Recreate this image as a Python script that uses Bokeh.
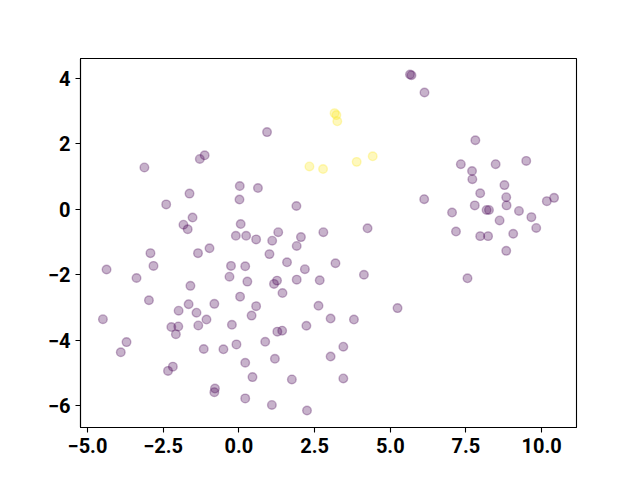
from bokeh.plotting import figure
from bokeh.models import Range1d, FixedTicker
from bokeh.embed import file_html
from bokeh.resources import INLINE

# Cluster 0 (purple)
purple_x = [-3.12, -1.29, -1.13, 0.03, 0.02, -1.63, -2.40, -1.53, -1.83, -1.69,
            0.06, -0.10, 0.24, 5.65, 5.70, 0.93, 0.63, 1.90, 0.57, 1.30,
            1.10, 2.05, 2.79, 4.25, 6.13, 7.81, 7.33, 7.70, 7.71, 8.48,
            9.49, 8.77, 7.97, 8.83, 6.12, 7.79, 8.84, 8.18, 8.26, 10.17,
            10.41, 9.25, 7.04, 8.61, 9.66, 9.82, 7.17, 9.06, 7.97, 8.23,
            8.83, 7.55, 5.24, -2.92, -1.35, -0.97, -4.37, -2.82, -0.26, 0.21,
            -3.38, -0.31, -1.60, 0.28, -2.97, 0.04, -1.66, -0.81, -1.99, -1.40,
            0.42, -4.49, -1.07, -2.23, -2.00, -2.08, -1.34, -0.23, -3.71, -3.90,
            -1.16, -0.51, -0.08, -2.18, -2.34, 0.21, -0.79, -0.81, 0.21, 0.45,
            1.91, 1.01, 1.59, 2.18, 3.19, 4.13, 1.26, 1.16, 1.91, 2.67,
            1.44, 0.57, 2.63, 3.03, 3.80, 2.23, 1.27, 1.43, 0.87, 3.45,
            3.03, 1.19, 1.75, 3.45, 1.09, 2.25]
purple_y = [1.28, 1.54, 1.65, 0.71, 0.30, 0.48, 0.15, -0.25, -0.47, -0.61,
            -0.45, -0.81, -0.81, 4.12, 4.10, 2.36, 0.65, 0.10, -0.92, -0.70,
            -0.96, -0.85, -0.70, -0.58, 3.57, 2.11, 1.38, 1.17, 0.92, 1.38,
            1.48, 0.74, 0.49, 0.37, 0.31, 0.12, 0.12, -0.02, -0.02, 0.25,
            0.35, -0.05, -0.10, -0.34, -0.24, -0.57, -0.68, -0.75, -0.82, -0.82,
            -1.27, -2.11, -3.02, -1.34, -1.34, -1.19, -1.84, -1.73, -1.73, -1.74,
            -2.10, -2.06, -2.34, -2.21, -2.78, -2.67, -2.90, -2.89, -3.10, -3.16,
            -3.25, -3.36, -3.37, -3.60, -3.58, -3.82, -3.55, -3.53, -4.06, -4.37,
            -4.27, -4.28, -4.13, -4.81, -4.94, -4.69, -5.48, -5.59, -5.78, -5.13,
            -1.12, -1.37, -1.62, -1.83, -1.65, -2.00, -2.18, -2.28, -2.15, -2.17,
            -2.56, -2.96, -2.95, -3.34, -3.37, -3.56, -3.74, -3.71, -4.05, -4.20,
            -4.50, -4.57, -5.20, -5.17, -5.98, -6.15]

# Cluster 1 (yellow)
yellow_x = [3.16, 3.22, 3.25, 2.33, 2.78, 3.89, 4.42]
yellow_y = [2.94, 2.88, 2.69, 1.31, 1.23, 1.45, 1.62]

x_ticks = [-5.0, -2.5, 0.0, 2.5, 5.0, 7.5, 10.0]
y_ticks = [-6, -4, -2, 0, 2, 4]

def fmt_x(v):
    s = f"{abs(v):.1f}"
    return ("\u2212" + s) if v < 0 else s

def fmt_y(v):
    s = f"{abs(v):d}"
    return ("\u2212" + s) if v < 0 else s

p = figure(width=624, height=464, output_backend="svg", toolbar_location=None,
           x_range=Range1d(-5.23, 11.15), y_range=Range1d(-6.67, 4.61),
           min_border_left=80, min_border_right=48, min_border_top=58, min_border_bottom=37)

p.grid.visible = False
p.outline_line_color = "black"
p.outline_line_width = 1.1
p.background_fill_color = "white"
p.border_fill_color = "white"

p.scatter(purple_x, purple_y, size=8.6, fill_color="#440154", line_color="#440154",
          fill_alpha=0.3, line_alpha=0.3, line_width=1.4)
p.scatter(yellow_x, yellow_y, size=8.6, fill_color="#fde725", line_color="#fde725",
          fill_alpha=0.3, line_alpha=0.3, line_width=1.4)

p.xaxis.ticker = FixedTicker(ticks=x_ticks)
p.yaxis.ticker = FixedTicker(ticks=y_ticks)
p.xaxis.major_label_overrides = {t: fmt_x(t) for t in x_ticks}
p.yaxis.major_label_overrides = {t: fmt_y(t) for t in y_ticks}

for ax in (p.xaxis, p.yaxis):
    ax.major_label_text_font = "Roboto"
    ax.major_label_text_font_style = "bold"
    ax.major_label_text_font_size = "20px"
    ax.major_label_text_color = "black"
    ax.axis_line_color = "black"
    ax.axis_line_width = 1.1
    ax.major_tick_line_color = "black"
    ax.major_tick_line_width = 1.1
    ax.major_tick_out = 5
    ax.major_tick_in = 0
    ax.minor_tick_line_color = None
    ax.major_label_standoff = 5

open("out.html", "w").write(file_html(p, INLINE))
